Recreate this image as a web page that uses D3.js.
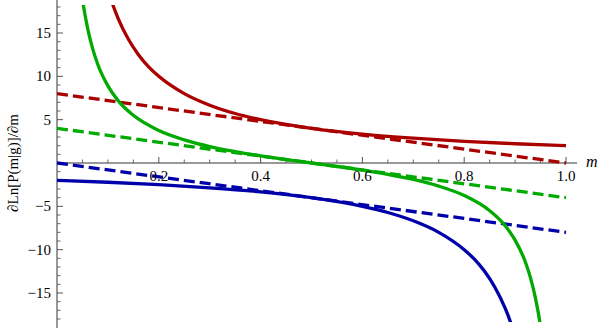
<!DOCTYPE html>
<html>
<head>
<meta charset="utf-8">
<script src="https://cdn.jsdelivr.net/npm/d3@7"></script>
</head>
<body style="margin:0">
<script>
// values
const redSolidM = [0.10, 0.11, 0.12, 0.14, 0.16, 0.18, 0.20, 0.25, 0.30, 0.35, 0.40, 0.50, 0.60, 0.70, 0.80, 0.90, 1.00];
const redSolidV = [20.0, 18.2, 16.7, 14.3, 12.5, 11.1, 10.0, 8.0, 6.67, 5.71, 5.0, 4.0, 3.33, 2.86, 2.5, 2.22, 2.0];

const greenSolidM = [0.04, 0.05, 0.06, 0.07, 0.08, 0.10, 0.12, 0.15, 0.20, 0.25, 0.30, 0.35, 0.40, 0.45, 0.50,
                     0.55, 0.60, 0.65, 0.70, 0.75, 0.80, 0.85, 0.88, 0.90, 0.92, 0.93, 0.94, 0.95, 0.96];
const greenSolidV = [24.0, 18.9, 15.6, 13.2, 11.4, 8.9, 7.2, 5.5, 3.75, 2.67, 1.9, 1.32, 0.83, 0.40, 0.0,
                     -0.40, -0.83, -1.32, -1.9, -2.67, -3.75, -5.5, -7.2, -8.9, -11.4, -13.2, -15.6, -18.9, -24.0];

const blueSolidM = [0.0, 0.1, 0.2, 0.3, 0.4, 0.5, 0.6, 0.65, 0.70, 0.75, 0.80, 0.82, 0.84, 0.86, 0.88, 0.89, 0.90];
const blueSolidV = [-2.0, -2.22, -2.5, -2.86, -3.33, -4.0, -5.0, -5.71, -6.67, -8.0, -10.0, -11.1, -12.5, -14.3, -16.7, -18.2, -20.0];

const dashM = [0, 1];
const redDashV = [8, 0];
const greenDashV = [4, -4];
const blueDashV = [0, -8];

const xTicksMajor = [0.2, 0.4, 0.6, 0.8, 1.0];
const yTicksMajor = [-15, -10, -5, 5, 10, 15];

const width = 600, height = 328;
const font = '"Liberation Serif", serif';

const svg = d3.select("body").append("svg")
    .attr("width", width)
    .attr("height", height)
    .attr("font-family", font)
    .style("display", "block")
    .style("font-family", font);

const x = d3.scaleLinear().domain([0, 1]).range([57, 566]);
const y = d3.scaleLinear().domain([-15, 15]).range([293, 33]);

// minor ticks
const xMinor = d3.range(1, 21).map(i => i * 0.05).filter(v => !xTicksMajor.some(t => Math.abs(t - v) < 1e-6));
const yMinor = d3.range(-18, 19).filter(v => v !== 0 && v % 5 !== 0);

// x axis
const xAxis = svg.append("g").attr("transform", `translate(0,${y(0)})`);
xAxis.append("line")
    .attr("x1", x(0)).attr("x2", 577)
    .attr("stroke", "#333").attr("stroke-width", 1);
xAxis.selectAll(".minor").data(xMinor).join("line")
    .attr("x1", d => x(d)).attr("x2", d => x(d))
    .attr("y1", 0).attr("y2", -3.5)
    .attr("stroke", "#666");
xAxis.selectAll(".major").data(xTicksMajor).join("line")
    .attr("x1", d => x(d)).attr("x2", d => x(d))
    .attr("y1", 0).attr("y2", -6)
    .attr("stroke", "#555");

// y axis
const yAxis = svg.append("g").attr("transform", `translate(${x(0)},0)`);
yAxis.append("line")
    .attr("y1", 0).attr("y2", height)
    .attr("stroke", "#333").attr("stroke-width", 1);
yAxis.selectAll(".minor").data(yMinor).join("line")
    .attr("x1", 0).attr("x2", 3.5)
    .attr("y1", d => y(d)).attr("y2", d => y(d))
    .attr("stroke", "#666");
yAxis.selectAll(".major").data(yTicksMajor).join("line")
    .attr("x1", 0).attr("x2", 6)
    .attr("y1", d => y(d)).attr("y2", d => y(d))
    .attr("stroke", "#555");

// curves, clipped to the plot range
svg.append("clipPath").attr("id", "clip")
  .append("rect").attr("x", x(0)).attr("y", 5).attr("width", 560).attr("height", 317);

const plot = svg.append("g").attr("clip-path", "url(#clip)");
const line = d3.line().x(d => x(d[0])).y(d => y(d[1])).curve(d3.curveMonotoneX);

const series = [
  {m: dashM, v: redDashV, color: "#aa0000", dash: true},
  {m: dashM, v: greenDashV, color: "#00aa00", dash: true},
  {m: dashM, v: blueDashV, color: "#0000aa", dash: true},
  {m: redSolidM, v: redSolidV, color: "#aa0000", dash: false},
  {m: greenSolidM, v: greenSolidV, color: "#00aa00", dash: false},
  {m: blueSolidM, v: blueSolidV, color: "#0000aa", dash: false}
];

plot.selectAll("path").data(series).join("path")
    .attr("fill", "none")
    .attr("stroke", d => d.color)
    .attr("stroke-width", 3.3)
    .attr("stroke-dasharray", d => d.dash ? "11,5" : null)
    .attr("d", d => line(d.m.map((m, i) => [m, d.v[i]])));

// tick labels
svg.append("g").selectAll("text").data(xTicksMajor).join("text")
    .attr("x", d => x(d)).attr("y", y(0) + 18)
    .attr("text-anchor", "middle")
    .style("font-family", font).attr("font-size", 15)
    .text(d => d3.format(".1f")(d));

svg.append("g").selectAll("text").data(yTicksMajor).join("text")
    .attr("x", x(0) - 6).attr("y", d => y(d) + 5)
    .attr("text-anchor", "end")
    .style("font-family", font).attr("font-size", 15)
    .text(d => d < 0 ? "\u2212" + Math.abs(d) : d);

// axis titles
svg.append("text")
    .attr("x", 586).attr("y", y(0) + 4)
    .style("font-family", font).attr("font-size", 16)
    .attr("font-style", "italic")
    .text("m");

svg.append("text")
    .attr("transform", `translate(18,${y(0)}) rotate(-90)`)
    .attr("text-anchor", "middle")
    .style("font-family", font).attr("font-size", 15)
    .text("\u2202Ln[P(m|g)]/\u2202m");
</script>
</body>
</html>
